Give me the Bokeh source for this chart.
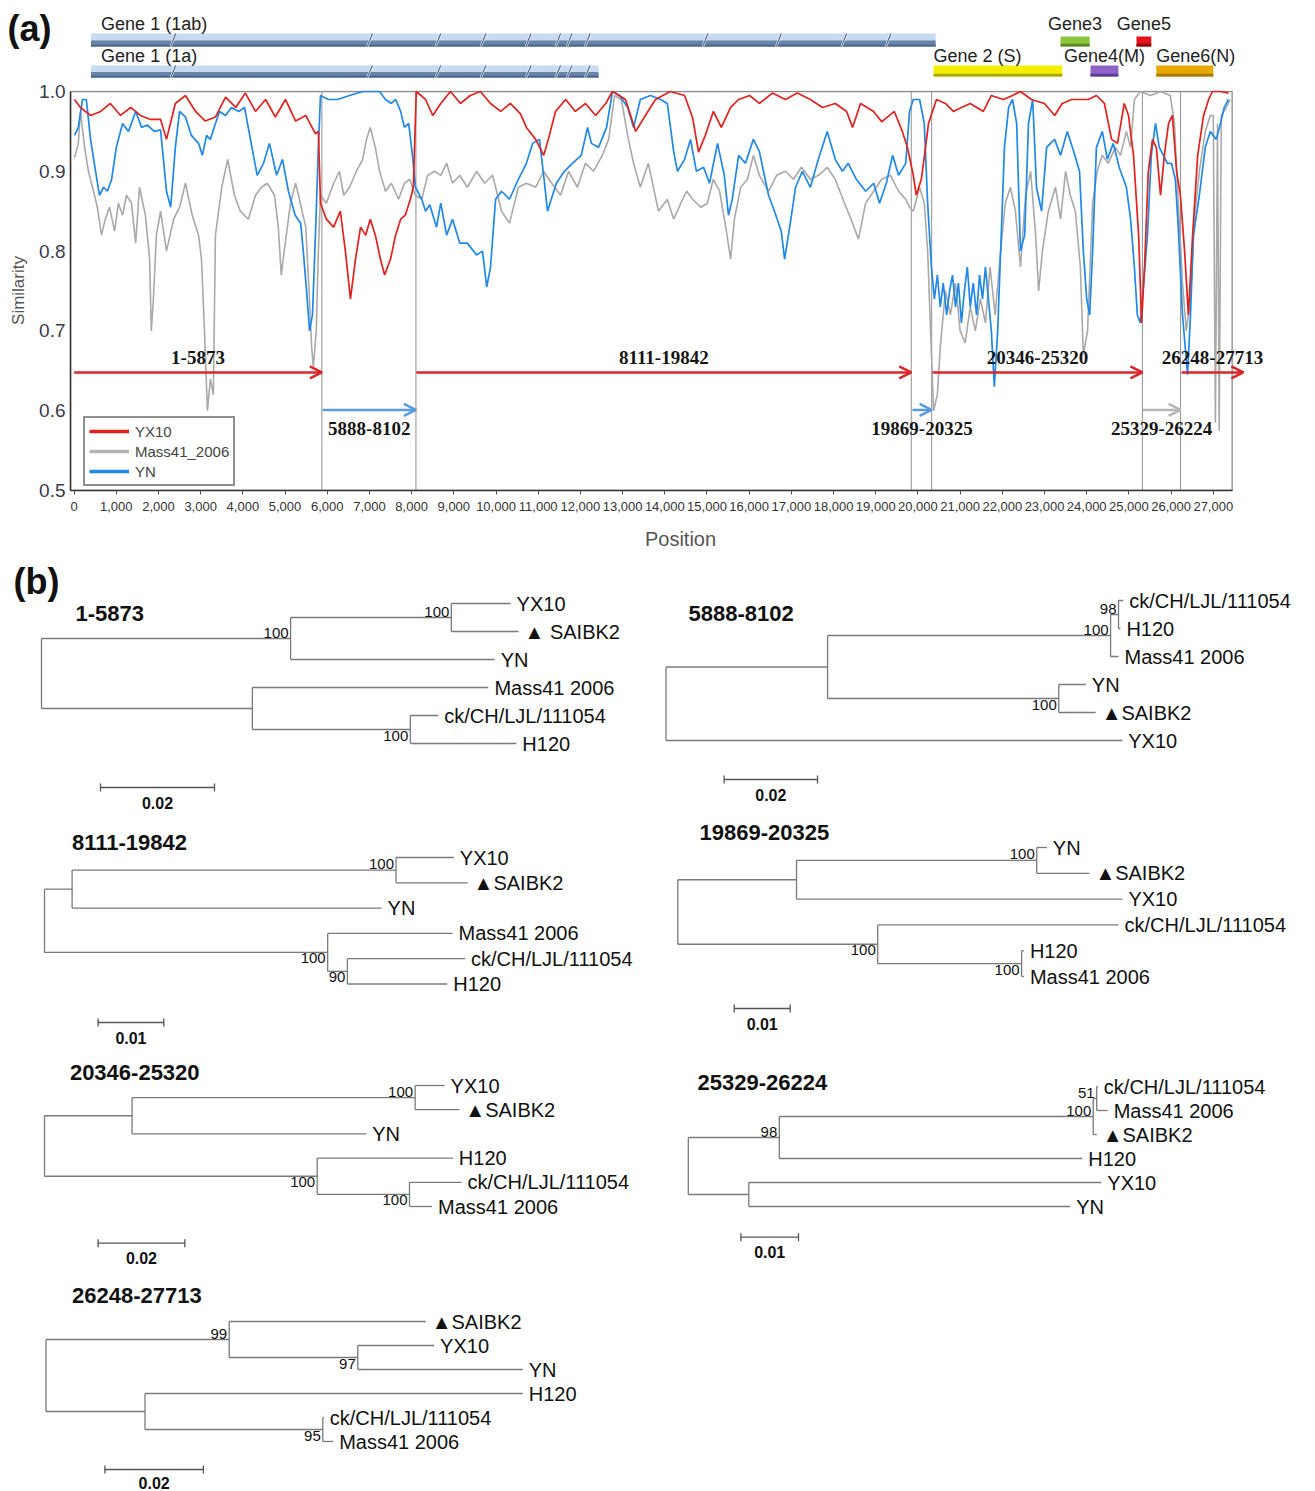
from bokeh.plotting import figure
from bokeh.models import (Range1d, FixedTicker, Arrow, OpenHead, Legend, LegendItem,
                          NumeralTickFormatter)
from bokeh.layouts import column
from bokeh.embed import file_html
from bokeh.resources import INLINE
from bokeh.core.properties import value

# ---------------------------------------------------------------- data (a)
YX10_POS = [10, 150, 390, 630, 860, 1100, 1340, 1570, 1810, 2050, 2190, 2400, 2640, 2880, 3110,
            3350, 3590, 3830, 4060, 4300, 4540, 4770, 5010, 5250, 5490, 5720, 5790, 5840, 5980,
            6150, 6310, 6430, 6550, 6670, 6790, 6910, 7020, 7140, 7260, 7360, 7500, 7620, 7740,
            7850, 7970, 8040, 8110, 8330, 8500, 8690, 8920, 9160, 9390, 9630, 9870, 10110, 10340,
            10580, 10720, 10940, 11130, 11240, 11410, 11650, 11880, 12120, 12360, 12600, 12760,
            13070, 13310, 13540, 13780, 14130, 14470, 14660, 14800, 14960, 15150, 15340, 15560,
            15750, 16010, 16240, 16550, 16860, 17140, 17450, 17740, 18040, 18310, 18450, 18640,
            18950, 19140, 19440, 19630, 19750, 19890, 19960, 20080, 20180, 20250, 20440, 20650,
            20840, 21030, 21240, 21550, 21740, 22030, 22240, 22430, 22690, 23000, 23240, 23420,
            23640, 23850, 24040, 24230, 24420, 24590, 24730, 24890, 24990, 25110, 25230, 25300,
            25370, 25460, 25560, 25650, 25750, 25840, 25940, 26030, 26130, 26220, 26320, 26410,
            26510, 26630, 26770, 26890, 26980, 27170, 27360]
YX10_SIM = [0.99, 0.98, 0.97, 0.975, 0.985, 0.97, 0.98, 0.97, 0.965, 0.965, 0.94, 0.985, 0.995,
            0.975, 0.963, 0.968, 0.993, 0.98, 0.998, 0.975, 0.99, 0.968, 0.99, 0.963, 0.97, 0.947,
            0.95, 0.86, 0.84, 0.83, 0.85, 0.80, 0.74, 0.79, 0.83, 0.82, 0.84, 0.82, 0.79, 0.77,
            0.79, 0.82, 0.84, 0.845, 0.865, 0.88, 1.0, 0.99, 0.97, 0.985, 1.0, 0.985, 0.995, 1.0,
            0.985, 0.975, 0.985, 0.972, 0.955, 0.94, 0.92, 0.94, 0.975, 0.99, 0.975, 0.985, 0.97,
            0.985, 1.0, 0.99, 0.95, 0.97, 0.99, 1.0, 0.995, 0.967, 0.924, 0.945, 0.975, 0.955,
            0.98, 0.99, 0.995, 0.985, 0.998, 0.99, 0.998, 0.99, 0.98, 0.985, 0.975, 0.955, 0.985,
            0.975, 0.962, 0.975, 0.95, 0.93, 0.895, 0.87, 0.89, 0.93, 0.96, 0.99, 0.985, 0.975,
            0.98, 0.985, 0.975, 0.995, 0.99, 0.995, 1.0, 0.99, 0.985, 0.97, 0.985, 0.99, 0.99,
            0.99, 0.995, 0.985, 0.94, 0.935, 0.985, 0.97, 0.92, 0.82, 0.71, 0.78, 0.90, 0.94,
            0.93, 0.87, 0.92, 0.96, 0.97, 0.90, 0.87, 0.80, 0.72, 0.82, 0.92, 0.97, 0.99, 1.0,
            1.0, 0.998]

YN_POS = [10, 100, 200, 290, 390, 510, 600, 700, 790, 890, 1000, 1150, 1290, 1460, 1600, 1740,
          1900, 2050, 2190, 2290, 2400, 2500, 2640, 2780, 2950, 3040, 3140, 3230, 3350, 3450,
          3590, 3730, 3900, 4040, 4180, 4340, 4490, 4630, 4800, 4940, 5080, 5240, 5370, 5440,
          5510, 5580, 5650, 5720, 5790, 5840, 6030, 6240, 6530, 6840, 7020, 7240, 7380, 7520,
          7620, 7740, 7830, 7930, 8020, 8090, 8240, 8330, 8430, 8590, 8690, 8830, 8970, 9140,
          9320, 9540, 9680, 9780, 9870, 9990, 10130, 10320, 10530, 10720, 10870, 11030, 11150,
          11220, 11430, 11620, 11810, 12020, 12170, 12260, 12430, 12620, 12760, 12930, 13120,
          13260, 13420, 13660, 13900, 14060, 14210, 14300, 14470, 14610, 14750, 14920, 15060,
          15250, 15410, 15510, 15600, 15750, 15910, 16100, 16240, 16460, 16600, 16760, 16840,
          16960, 17100, 17260, 17450, 17640, 17850, 18040, 18210, 18350, 18540, 18760, 18950,
          19090, 19250, 19400, 19540, 19710, 19800, 19890, 20040, 20150, 20230, 20320, 20390,
          20460, 20530, 20600, 20680, 20750, 20820, 20890, 20960, 21030, 21100, 21170, 21240,
          21310, 21390, 21460, 21530, 21600, 21670, 21740, 21810, 21890, 21960, 22050, 22150,
          22240, 22340, 22430, 22530, 22620, 22720, 22810, 22930, 23050, 23140, 23240, 23380,
          23540, 23690, 23830, 23920, 24000, 24070, 24140, 24230, 24370, 24490, 24630, 24770,
          24940, 25040, 25130, 25200, 25270, 25350, 25440, 25530, 25630, 25720, 25820, 25910,
          26010, 26100, 26170, 26270, 26390, 26460, 26530, 26670, 26810, 26930, 27070, 27170,
          27260, 27360]
YN_SIM = [0.945, 0.955, 0.99, 0.99, 0.94, 0.90, 0.87, 0.88, 0.875, 0.89, 0.93, 0.96, 0.95, 0.975,
          0.955, 0.958, 0.95, 0.952, 0.875, 0.855, 0.93, 0.975, 0.968, 0.945, 0.935, 0.92, 0.945,
          0.94, 0.96, 0.975, 0.97, 0.98, 0.975, 0.98, 0.94, 0.895, 0.91, 0.935, 0.895, 0.915,
          0.875, 0.845, 0.835, 0.795, 0.75, 0.70, 0.72, 0.82, 0.93, 0.995, 0.99, 0.99, 0.995,
          1.0, 1.0, 1.0, 0.99, 0.985, 0.99, 0.975, 0.955, 0.96, 0.92, 0.88, 0.865, 0.85, 0.858,
          0.83, 0.86, 0.82, 0.84, 0.81, 0.81, 0.795, 0.80, 0.755, 0.78, 0.865, 0.875, 0.865,
          0.89, 0.91, 0.935, 0.94, 0.885, 0.85, 0.885, 0.90, 0.91, 0.92, 0.955, 0.935, 0.93,
          0.955, 1.0, 0.995, 0.98, 0.955, 0.99, 0.995, 0.99, 0.985, 0.925, 0.90, 0.915, 0.94,
          0.90, 0.905, 0.885, 0.935, 0.895, 0.845, 0.865, 0.92, 0.91, 0.94, 0.925, 0.87, 0.85,
          0.825, 0.79, 0.83, 0.88, 0.90, 0.88, 0.915, 0.95, 0.915, 0.90, 0.91, 0.89, 0.875,
          0.885, 0.86, 0.885, 0.92, 0.895, 0.91, 0.975, 0.99, 0.99, 0.96, 0.86, 0.78, 0.74, 0.77,
          0.73, 0.76, 0.72, 0.75, 0.77, 0.73, 0.76, 0.71, 0.75, 0.78, 0.73, 0.76, 0.72, 0.77,
          0.74, 0.78, 0.74, 0.70, 0.63, 0.70, 0.80, 0.93, 0.98, 0.99, 0.96, 0.80, 0.82, 0.96,
          0.99, 0.88, 0.85, 0.93, 0.935, 0.94, 0.92, 0.95, 0.925, 0.90, 0.80, 0.74, 0.72, 0.80,
          0.93, 0.95, 0.915, 0.935, 0.905, 0.88, 0.84, 0.78, 0.72, 0.71, 0.76, 0.82, 0.92, 0.96,
          0.93, 0.92, 0.91, 0.91, 0.89, 0.83, 0.72, 0.645, 0.72, 0.82, 0.87, 0.93, 0.95, 0.94,
          0.96, 0.98, 0.99]

MASS41_POS = [10, 100, 150, 250, 340, 460, 550, 650, 740, 840, 960, 1050, 1150, 1240, 1360,
              1460, 1550, 1690, 1790, 1830, 1880, 1950, 2050, 2190, 2360, 2500, 2640, 2800, 2950,
              3020, 3090, 3160, 3230, 3300, 3350, 3500, 3640, 3800, 3940, 4130, 4300, 4440, 4580,
              4750, 4840, 4910, 4980, 5130, 5250, 5340, 5490, 5560, 5630, 5670, 5740, 5790, 5840,
              5980, 6150, 6290, 6390, 6530, 6690, 6840, 6930, 7020, 7140, 7240, 7380, 7520, 7690,
              7830, 7950, 8090, 8240, 8380, 8550, 8690, 8830, 8970, 9140, 9320, 9540, 9730, 9920,
              10130, 10320, 10530, 10720, 10940, 11130, 11320, 11530, 11720, 11930, 12120, 12310,
              12520, 12670, 12810, 12970, 13120, 13260, 13420, 13610, 13850, 14060, 14210, 14380,
              14520, 14660, 14850, 15010, 15150, 15300, 15460, 15560, 15650, 15800, 15960, 16100,
              16240, 16460, 16650, 16860, 17050, 17240, 17450, 17640, 17850, 18040, 18260, 18450,
              18590, 18760, 18950, 19140, 19350, 19540, 19710, 19800, 19890, 20040, 20150, 20230,
              20300, 20370, 20460, 20530, 20650, 20770, 20890, 21000, 21120, 21240, 21360, 21480,
              21600, 21710, 21830, 21960, 22070, 22190, 22310, 22430, 22550, 22670, 22790, 22860,
              22950, 23090, 23260, 23380, 23500, 23610, 23730, 23850, 23920, 24020, 24140, 24250,
              24370, 24510, 24680, 24800, 24940, 25040, 25130, 25270, 25510, 25750, 25980, 26080,
              26170, 26270, 26360, 26460, 26550, 26670, 26810, 26930, 27000, 27050, 27100, 27140,
              27190, 27310, 27400]
MASS41_SIM = [0.917, 0.935, 0.975, 0.93, 0.90, 0.875, 0.855, 0.82, 0.84, 0.855, 0.825, 0.86,
              0.845, 0.87, 0.86, 0.81, 0.88, 0.845, 0.79, 0.70, 0.74, 0.82, 0.85, 0.80, 0.84,
              0.855, 0.885, 0.845, 0.82, 0.79, 0.70, 0.60, 0.64, 0.62, 0.82, 0.88, 0.915, 0.87,
              0.85, 0.84, 0.87, 0.88, 0.885, 0.87, 0.83, 0.77, 0.80, 0.86, 0.885, 0.865, 0.83,
              0.76, 0.68, 0.655, 0.70, 0.80, 0.87, 0.86, 0.885, 0.90, 0.87, 0.88, 0.90, 0.915,
              0.94, 0.955, 0.93, 0.90, 0.875, 0.885, 0.865, 0.885, 0.89, 0.87, 0.865, 0.895, 0.90,
              0.895, 0.91, 0.885, 0.895, 0.88, 0.90, 0.885, 0.895, 0.85, 0.835, 0.88, 0.885, 0.88,
              0.90, 0.885, 0.87, 0.90, 0.88, 0.91, 0.90, 0.92, 0.94, 0.995, 0.99, 0.945, 0.91,
              0.88, 0.91, 0.85, 0.865, 0.84, 0.86, 0.875, 0.865, 0.855, 0.86, 0.89, 0.875, 0.825,
              0.79, 0.84, 0.88, 0.89, 0.92, 0.895, 0.875, 0.895, 0.90, 0.89, 0.905, 0.89, 0.895,
              0.905, 0.89, 0.86, 0.835, 0.815, 0.86, 0.875, 0.89, 0.895, 0.875, 0.865, 0.855,
              0.85, 0.88, 0.86, 0.80, 0.70, 0.60, 0.62, 0.68, 0.75, 0.72, 0.76, 0.70, 0.685, 0.73,
              0.70, 0.74, 0.71, 0.78, 0.72, 0.80, 0.86, 0.88, 0.85, 0.78, 0.87, 0.90, 0.82, 0.75,
              0.80, 0.85, 0.88, 0.84, 0.90, 0.87, 0.85, 0.78, 0.67, 0.70, 0.86, 0.90, 0.92, 0.91,
              0.93, 0.92, 0.95, 0.93, 0.99, 1.0, 0.995, 1.0, 0.995, 0.96, 0.86, 0.76, 0.70, 0.74,
              0.84, 0.90, 0.95, 0.97, 0.97, 0.585, 0.96, 0.575, 0.97, 0.98, 0.99]

SEGMENTS = ["1-5873", "5888-8102", "8111-19842", "19869-20325", "20346-25320", "25329-26224",
            "26248-27713"]
SEG_START = [1, 5888, 8111, 19869, 20346, 25329, 26248]
SEG_END = [5873, 8102, 19842, 20325, 25320, 26224, 27713]
SEG_PARENT = ["YX10", "YN", "YX10", "YN", "YX10", "Mass41_2006", "YX10"]

GENES = ["Gene 1 (1ab)", "Gene 1 (1a)", "Gene 2 (S)", "Gene3", "Gene4(M)", "Gene5", "Gene6(N)"]
GENE_START = [400, 400, 20370, 23380, 24090, 25180, 25650]
GENE_END = [20420, 12430, 23420, 24070, 24750, 25530, 27000]
GENE_TRACK = [0, 1, 1, 0, 1, 0, 1]
NSP_BOUNDS = [2350, 7010, 8630, 9700, 10770, 11470, 11740, 12170, 14960, 16700, 18250, 19300]

X_TICKS = [0, 1000, 2000, 3000, 4000, 5000, 6000, 7000, 8000, 9000, 10000, 11000, 12000, 13000,
           14000, 15000, 16000, 17000, 18000, 19000, 20000, 21000, 22000, 23000, 24000, 25000,
           26000, 27000]
X_TICK_LABELS = ["0", "1,000", "2,000", "3,000", "4,000", "5,000", "6,000", "7,000", "8,000",
                 "9,000", "10,000", "11,000", "12,000", "13,000", "14,000", "15,000", "16,000",
                 "17,000", "18,000", "19,000", "20,000", "21,000", "22,000", "23,000", "24,000",
                 "25,000", "26,000", "27,000"]
Y_TICKS = [0.5, 0.6, 0.7, 0.8, 0.9, 1.0]

# ---------------------------------------------------------------- data (b)
# leaf: (name, branch length); internal node: (branch length, bootstrap, [children])
TREE_1 = (0, None, [
    (0.0437, 100, [(0.0282, 100, [("YX10", 0.0104), ("\u25b2 SAIBK2", 0.0118)]),
                   ("YN", 0.0358)]),
    (0.0370, None, [("Mass41 2006", 0.0414),
                    (0.0277, 100, [("ck/CH/LJL/111054", 0.0049), ("H120", 0.0186)])])])
TREE_2 = (0, None, [
    (0.0346, None, [
        (0.0606, 100, [(0.0017, 98, [("ck/CH/LJL/111054", 0.0010), ("H120", 0.0004)]),
                       ("Mass41 2006", 0.0017)]),
        (0.0495, 100, [("YN", 0.0058), ("\u25b2SAIBK2", 0.0079)])]),
    ("YX10", 0.0977)])
TREE_3 = (0, None, [
    (0.0042, None, [(0.0493, 100, [("YX10", 0.0088), ("\u25b2SAIBK2", 0.0109)]),
                    ("YN", 0.0471)]),
    (0.0431, 100, [("Mass41 2006", 0.0190),
                   (0.0030, 90, [("ck/CH/LJL/111054", 0.0179), ("H120", 0.0152)])])])
TREE_4 = (0, None, [
    (0.0212, None, [(0.0429, 100, [("YN", 0.0018), ("\u25b2SAIBK2", 0.0094)]),
                    ("YX10", 0.0582)]),
    (0.0357, 100, [("ck/CH/LJL/111054", 0.0430),
                   (0.0257, 100, [("H120", 0.0004), ("Mass41 2006", 0.0004)])])])
TREE_5 = (0, None, [
    (0.0202, None, [(0.0653, 100, [("YX10", 0.0068), ("\u25b2SAIBK2", 0.0102)]),
                    ("YN", 0.0540)]),
    (0.0629, 100, [("H120", 0.0313),
                   (0.0213, 100, [("ck/CH/LJL/111054", 0.0120), ("Mass41 2006", 0.0052)])])])
TREE_6 = (0, None, [
    (0.0158, 98, [
        (0.0545, 100, [(0.0006, 51, [("ck/CH/LJL/111054", 0.0002), ("Mass41 2006", 0.0019)]),
                       ("\u25b2SAIBK2", 0.0006)]),
        ("H120", 0.0526)]),
    (0.0105, None, [("YX10", 0.0612), ("YN", 0.0558)])])
TREE_7 = (0, None, [
    (0.0372, 99, [("\u25b2SAIBK2", 0.0399),
                  (0.0261, 97, [("YX10", 0.0155), ("YN", 0.0335)])]),
    (0.0201, None, [("H120", 0.0767),
                    (0.0361, 95, [("ck/CH/LJL/111054", 0.0002), ("Mass41 2006", 0.0021)])])])

TREES = [TREE_1, TREE_2, TREE_3, TREE_4, TREE_5, TREE_6, TREE_7]
TREE_TITLES = ["1-5873", "5888-8102", "8111-19842", "19869-20325", "20346-25320",
               "25329-26224", "26248-27713"]
SCALE_BAR = [0.02, 0.02, 0.01, 0.01, 0.02, 0.01, 0.02]

# ---------------------------------------------------------------- style / layout
SANS = "Liberation Sans"
SERIF = "Liberation Serif"
W = 1315
HG, HA, HB = 80, 480, 931
C_RED, C_GRAY, C_BLUE = "#e2221e", "#a9a9a9", "#2088e8"
ARROW_COLOR = {"YX10": "#d8262b", "YN": "#5a9be0", "Mass41_2006": "#b6b6b6"}
GENE_FILL = ["#c8daf0", "#c8daf0", "#f4ef00", "#8cc63e", "#8e62c9", "#e3121b", "#e8a800"]
GENE_EDGE = ["#6684aa", "#6684aa", "#a8a400", "#5d8a2b", "#5b3c8f", "#8d0a0a", "#a57700"]
# gene-1 bars are thicker (light top, dark lower half); small genes use a thin dark base
TRACK_Y = {0: (1.0564, 1.0689), 1: (1.0188, 1.0326)}
G1_TRACK_Y = {0: (1.0564, 1.0727, 1.0639), 1: (1.0176, 1.0326, 1.0245)}
LABEL_Y = {0: 1.0840, 1: 1.0440}
X0, X1 = -85, 28830            # plot frame of panel (a)
GX0, GX1 = -1744.1, 29422.5    # same scale, full page width (gene map strip)
GY0, GY1 = 1.01378, 1.11404
Y_TOP = 1.00125
BOX_RIGHT = 27447

# ================================================================ gene map strip
pg = figure(width=W, height=HG, x_range=Range1d(GX0, GX1), y_range=Range1d(GY0, GY1),
            output_backend="svg", toolbar_location=None, x_axis_type=None, y_axis_type=None,
            min_border_left=0, min_border_right=0, min_border_top=0, min_border_bottom=0)
pg.frame_align = False
pg.outline_line_color = None
pg.grid.visible = False

for g, s, e, t, fc, ec in zip(GENES, GENE_START, GENE_END, GENE_TRACK, GENE_FILL, GENE_EDGE):
    if g.startswith("Gene 1"):
        b, tp, mid = G1_TRACK_Y[t]
        pg.quad(left=[s], right=[e], bottom=[b], top=[tp], fill_color=fc, line_color=None)
        pg.quad(left=[s], right=[e], bottom=[b], top=[mid], fill_color=ec, line_color=None)
        pg.quad(left=[s], right=[e], bottom=[b], top=[b + 0.0022], fill_color="#4a6282",
                line_color=None)
        bnds = [n for n in NSP_BOUNDS if s < n < e]
        pg.segment(x0=[n - 60 for n in bnds], y0=[b] * len(bnds),
                   x1=[n + 60 for n in bnds], y1=[tp] * len(bnds),
                   line_color="#f4f8fc", line_width=2.2)
        pg.segment(x0=[n - 60 for n in bnds], y0=[b] * len(bnds),
                   x1=[n + 60 for n in bnds], y1=[tp] * len(bnds),
                   line_color="#4a6282", line_width=1.1)
        lx, al = s + 240, "left"
    else:
        b, tp = TRACK_Y[t]
        pg.quad(left=[s], right=[e], bottom=[b], top=[tp], fill_color=fc, line_color=None)
        pg.quad(left=[s], right=[e], bottom=[b], top=[b + 0.0035], fill_color=ec,
                line_color=None)
        if g in ("Gene 2 (S)", "Gene6(N)"):
            lx, al = s, "left"
        else:
            lx, al = (s + e) / 2, "center"
    pg.text(x=[lx], y=[LABEL_Y[t]], text=[g], text_font=value(SANS),
            text_font_size=value("18px"), text_color="#222222", text_align=al,
            text_baseline="middle")

pg.text(x=[-1057], y=[1.0790], text=["(a)"], text_font=value(SANS),
        text_font_size=value("36px"), text_font_style="bold", text_color="#111111",
        text_align="center", text_baseline="middle")

# ================================================================ panel (a) plot
pa = figure(width=W, height=HA, x_range=Range1d(X0, X1), y_range=Range1d(0.5, Y_TOP),
            output_backend="svg", toolbar_location=None,
            min_border_left=70, min_border_right=25, min_border_top=10, min_border_bottom=70)
pa.frame_align = False
pa.grid.visible = False
pa.outline_line_color = None

xa = pa.xaxis[0]
xa.ticker = FixedTicker(ticks=X_TICKS)
xa.major_label_overrides = {t: l for t, l in zip(X_TICKS, X_TICK_LABELS)}
xa.bounds = (X0, BOX_RIGHT)
xa.axis_line_color = "#333333"
xa.axis_line_width = 1.6
xa.major_tick_out = 4
xa.major_tick_in = 0
xa.minor_tick_out = 0
xa.minor_tick_in = 0
xa.major_tick_line_color = "#555555"
xa.major_label_text_font = "'Liberation Sans Narrow', 'Liberation Sans', sans-serif"
xa.major_label_text_font_size = "13px"
xa.major_label_text_color = "#333333"
xa.major_label_standoff = 7
xa.axis_label = "Position"
xa.axis_label_text_font = SANS
xa.axis_label_text_font_size = "20px"
xa.axis_label_text_font_style = "normal"
xa.axis_label_text_color = "#555555"
xa.axis_label_standoff = 14

ya = pa.yaxis[0]
ya.ticker = FixedTicker(ticks=Y_TICKS)
ya.formatter = NumeralTickFormatter(format="0.0")
ya.bounds = (0.5, 1.0)
ya.axis_line_color = "#333333"
ya.axis_line_width = 1.6
ya.major_tick_out = 0
ya.major_tick_in = 0
ya.minor_tick_out = 0
ya.minor_tick_in = 0
ya.major_label_text_font = SANS
ya.major_label_text_font_size = "19px"
ya.major_label_text_color = "#3a3a4a"
ya.major_label_standoff = 5
ya.axis_label = "Similarity"
ya.axis_label_text_font = SANS
ya.axis_label_text_font_size = "17px"
ya.axis_label_text_font_style = "normal"
ya.axis_label_text_color = "#555555"
ya.axis_label_standoff = 8

# plot box and breakpoint lines
pa.quad(left=[X0], right=[BOX_RIGHT], bottom=[0.5], top=[1.0], fill_color=None,
        line_color="#8c8c8c", line_width=1.3)
pa.segment(x0=SEG_END[:-1], y0=[0.5] * (len(SEG_END) - 1), x1=SEG_END[:-1],
           y1=[1.0] * (len(SEG_END) - 1), line_color="#9a9a9a", line_width=1.1)

# similarity curves
r_gray = pa.line(MASS41_POS, MASS41_SIM, line_color=C_GRAY, line_width=1.6)
r_blue = pa.line(YN_POS, YN_SIM, line_color=C_BLUE, line_width=1.7)
r_red = pa.line(YX10_POS, YX10_SIM, line_color=C_RED, line_width=1.7)

# legend with thicker samples (one off-range point each, nothing drawn in the plot)
lg_red = pa.line([X0 - 1e6], [0.0], line_color=C_RED, line_width=3.5)
lg_gray = pa.line([X0 - 1e6], [0.0], line_color="#b5b5b5", line_width=3.5)
lg_blue = pa.line([X0 - 1e6], [0.0], line_color=C_BLUE, line_width=3.5)
legend = Legend(items=[LegendItem(label="YX10", renderers=[lg_red]),
                       LegendItem(label="Mass41_2006", renderers=[lg_gray]),
                       LegendItem(label="YN", renderers=[lg_blue])],
                location=(13, 4), orientation="vertical",
                border_line_color="#222222", border_line_width=2, background_fill_alpha=1.0,
                label_text_font=SANS, label_text_font_size="15px", label_text_color="#444444",
                glyph_width=40, glyph_height=18, label_height=18, label_standoff=6,
                spacing=2, padding=4, margin=0)
pa.add_layout(legend)

# recombination segment arrows and labels
for name, s, e, par in zip(SEGMENTS, SEG_START, SEG_END, SEG_PARENT):
    col = ARROW_COLOR[par]
    major = par == "YX10"
    ay = 0.648 if major else 0.601
    pa.add_layout(Arrow(end=OpenHead(size=12, line_color=col, line_width=2.5),
                        x_start=s, y_start=ay, x_end=e, y_end=ay,
                        line_color=col, line_width=2.5))
    pa.text(x=[(s + e) / 2], y=[0.667 if major else 0.578], text=[name],
            text_font=value(SERIF), text_font_size=value("19px"), text_font_style="bold",
            text_color="#151515", text_align="center", text_baseline="middle")

# ================================================================ panel (b)
# per tree: root x, first tip y, tip spacing, px per unit, scale-bar x, scale-bar y, title x, y
TREE_LAYOUT = [
    (41.0, 43.0, 28.0, 5700, 100.0, 227.0, 75.0, 53.0),
    (665.5, 40.0, 28.0, 4670, 723.6, 219.0, 688.0, 53.0),
    (44.0, 297.0, 25.3, 6570, 97.6, 462.0, 71.5, 282.0),
    (677.3, 287.0, 25.8, 5600, 733.7, 448.0, 699.0, 272.0),
    (44.0, 525.0, 24.2, 4335, 97.6, 682.7, 69.4, 512.0),
    (687.8, 526.0, 24.0, 5760, 740.4, 676.7, 697.0, 521.7),
    (45.5, 761.0, 24.0, 4925, 104.4, 909.0, 71.5, 735.0),
]

pb = figure(width=W, height=HB, x_range=Range1d(0, W), y_range=Range1d(HB, 0),
            output_backend="svg", toolbar_location=None, x_axis_type=None, y_axis_type=None,
            min_border_left=0, min_border_right=0, min_border_top=0, min_border_bottom=0)
pb.frame_align = False
pb.outline_line_color = None
pb.grid.visible = False


def lay(node, parent_x, st, first, out):
    if isinstance(node[0], str):
        name, bl = node
        x = parent_x + bl * st["k"]
        y = st["y0"] + st["i"] * st["dy"]
        st["i"] += 1
        out["seg"].append((parent_x, y, x, y))
        out["tip"].append((x + 6, y, name))
        return y
    bl, boot, kids = node
    x = parent_x + bl * st["k"]
    ys = [lay(c, x, st, j == 0, out) for j, c in enumerate(kids)]
    y = (ys[0] + ys[-1]) / 2
    out["seg"].append((x, ys[0], x, ys[-1]))
    if bl > 0:
        out["seg"].append((parent_x, y, x, y))
    if boot is not None:
        out["boot"].append((x - 2, y - 1 if first else y + 1, str(boot),
                            "bottom" if first else "top"))
    return y


for tree, title, sb, (rx, y0, dy, k, sbx, sby, tx, ty) in zip(TREES, TREE_TITLES, SCALE_BAR,
                                                              TREE_LAYOUT):
    out = {"seg": [], "tip": [], "boot": []}
    lay(tree, rx, {"k": k, "y0": y0, "dy": dy, "i": 0}, True, out)
    sx0, sy0, sx1, sy1 = zip(*out["seg"])
    pb.segment(x0=list(sx0), y0=list(sy0), x1=list(sx1), y1=list(sy1),
               line_color="#7a7a7a", line_width=1.3)
    txs, tys, tts = zip(*out["tip"])
    pb.text(x=list(txs), y=list(tys), text=list(tts), text_font=value(SANS),
            text_font_size=value("20px"), text_color="#111111", text_align="left",
            text_baseline="middle")
    for bx, by, bt, bl_ in out["boot"]:
        pb.text(x=[bx], y=[by], text=[bt], text_font=value(SANS),
                text_font_size=value("15px"), text_color="#111111", text_align="right",
                text_baseline=bl_)
    pb.text(x=[tx], y=[ty], text=[title], text_font=value(SANS),
            text_font_size=value("22px"), text_font_style="bold", text_color="#111111",
            text_align="left", text_baseline="middle")
    L = sb * k
    pb.segment(x0=[sbx, sbx, sbx + L], y0=[sby, sby - 4, sby - 4],
               x1=[sbx + L, sbx, sbx + L], y1=[sby, sby + 4, sby + 4],
               line_color="#555555", line_width=1.3)
    pb.text(x=[sbx + L / 2], y=[min(sby + 15, HB - 9)], text=["%.2f" % sb],
            text_font=value(SANS), text_font_size=value("16px"), text_font_style="bold",
            text_color="#111111", text_align="center", text_baseline="middle")

pb.text(x=[36], y=[21], text=["(b)"], text_font=value(SANS),
        text_font_size=value("36px"), text_font_style="bold", text_color="#111111",
        text_align="center", text_baseline="middle")

page = column(pg, pa, pb)
open("out.html", "w").write(file_html(page, INLINE, title="Similarity plot"))
